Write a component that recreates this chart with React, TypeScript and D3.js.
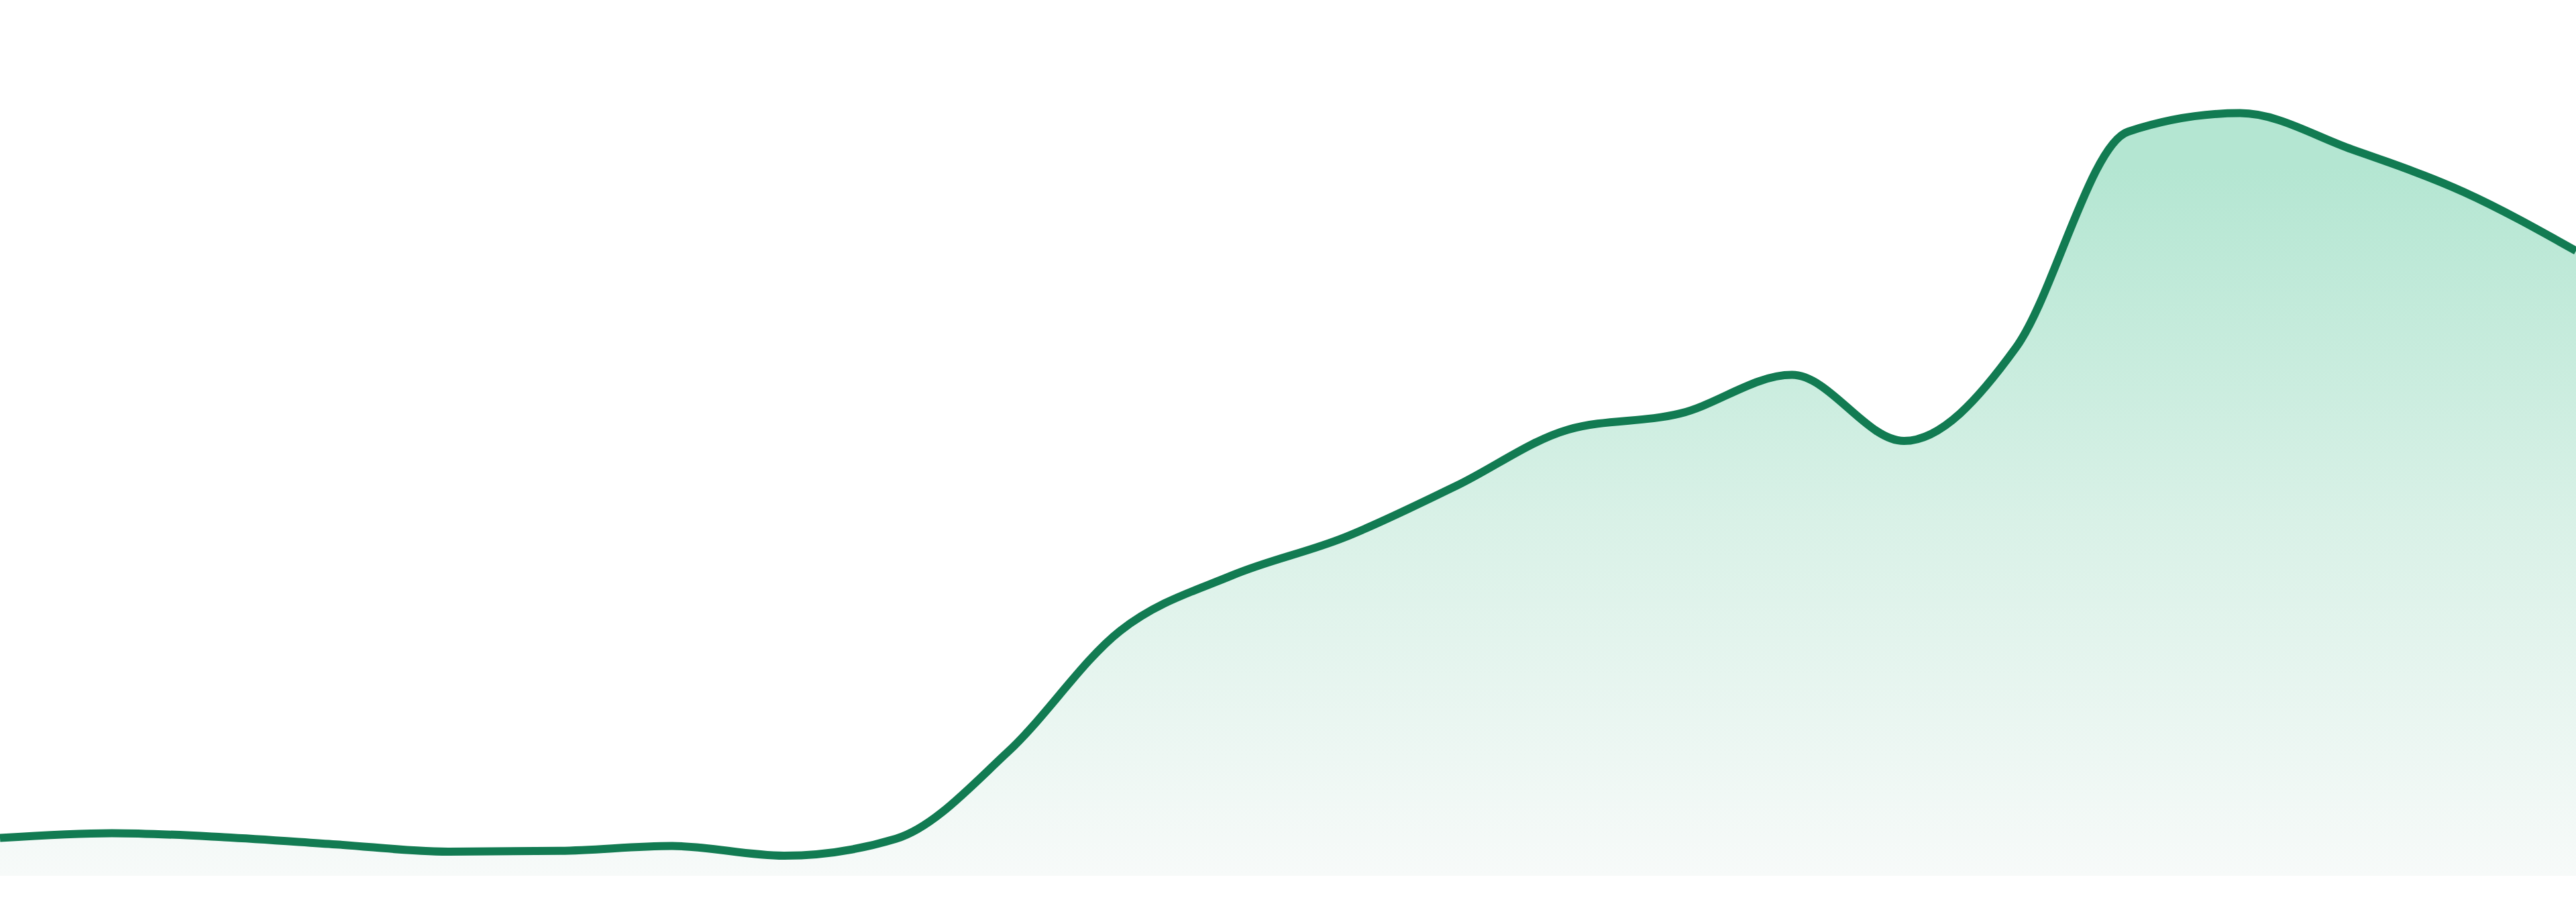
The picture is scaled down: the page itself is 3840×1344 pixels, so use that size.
import React, { useEffect, useRef } from "react";
import * as d3 from "d3";

// one value per evenly spaced step
const steps: number[] = d3.range(24);
const values: number[] = [
  47, 53, 48, 39, 30, 31, 37, 25, 46, 154, 304, 373, 420, 484, 554, 574, 622,
  540, 656, 924, 947, 902, 849, 776,
];

const width = 3840;
const height = 1344;
const plotBottom = 1305;

export default function App() {
  const ref = useRef<SVGSVGElement | null>(null);

  useEffect(() => {
    if (!ref.current) return;
    const svg = d3.select(ref.current);
    svg.selectAll("*").remove();

    const x = d3
      .scaleLinear()
      .domain([0, steps.length - 1])
      .range([0, width]);
    const y = d3.scaleLinear().domain([0, 1000]).range([plotBottom, 105]);

    const defs = svg.append("defs");
    const grad = defs
      .append("linearGradient")
      .attr("id", "fillGrad")
      .attr("gradientUnits", "userSpaceOnUse")
      .attr("x1", 0)
      .attr("x2", 0)
      .attr("y1", 250)
      .attr("y2", plotBottom);
    grad.append("stop").attr("offset", "0%").attr("stop-color", "#b4e6d2");
    grad.append("stop").attr("offset", "50%").attr("stop-color", "#d9f1e7");
    grad.append("stop").attr("offset", "100%").attr("stop-color", "#f7faf9");

    const area = d3
      .area<number>()
      .x((_, i) => x(steps[i]))
      .y0(plotBottom)
      .y1((d) => y(d))
      .curve(d3.curveMonotoneX);

    const line = d3
      .line<number>()
      .x((_, i) => x(steps[i]))
      .y((d) => y(d))
      .curve(d3.curveMonotoneX);

    svg
      .append("path")
      .datum(values)
      .attr("fill", "url(#fillGrad)")
      .attr("d", area);

    svg
      .append("path")
      .datum(values)
      .attr("fill", "none")
      .attr("stroke", "#127b52")
      .attr("stroke-width", 12)
      .attr("stroke-linejoin", "round")
      .attr("d", line);
  }, []);

  return (
    <svg
      ref={ref}
      width={width}
      height={height}
      style={{ position: "absolute", left: 0, top: 0, background: "#fff" }}
    />
  );
}
